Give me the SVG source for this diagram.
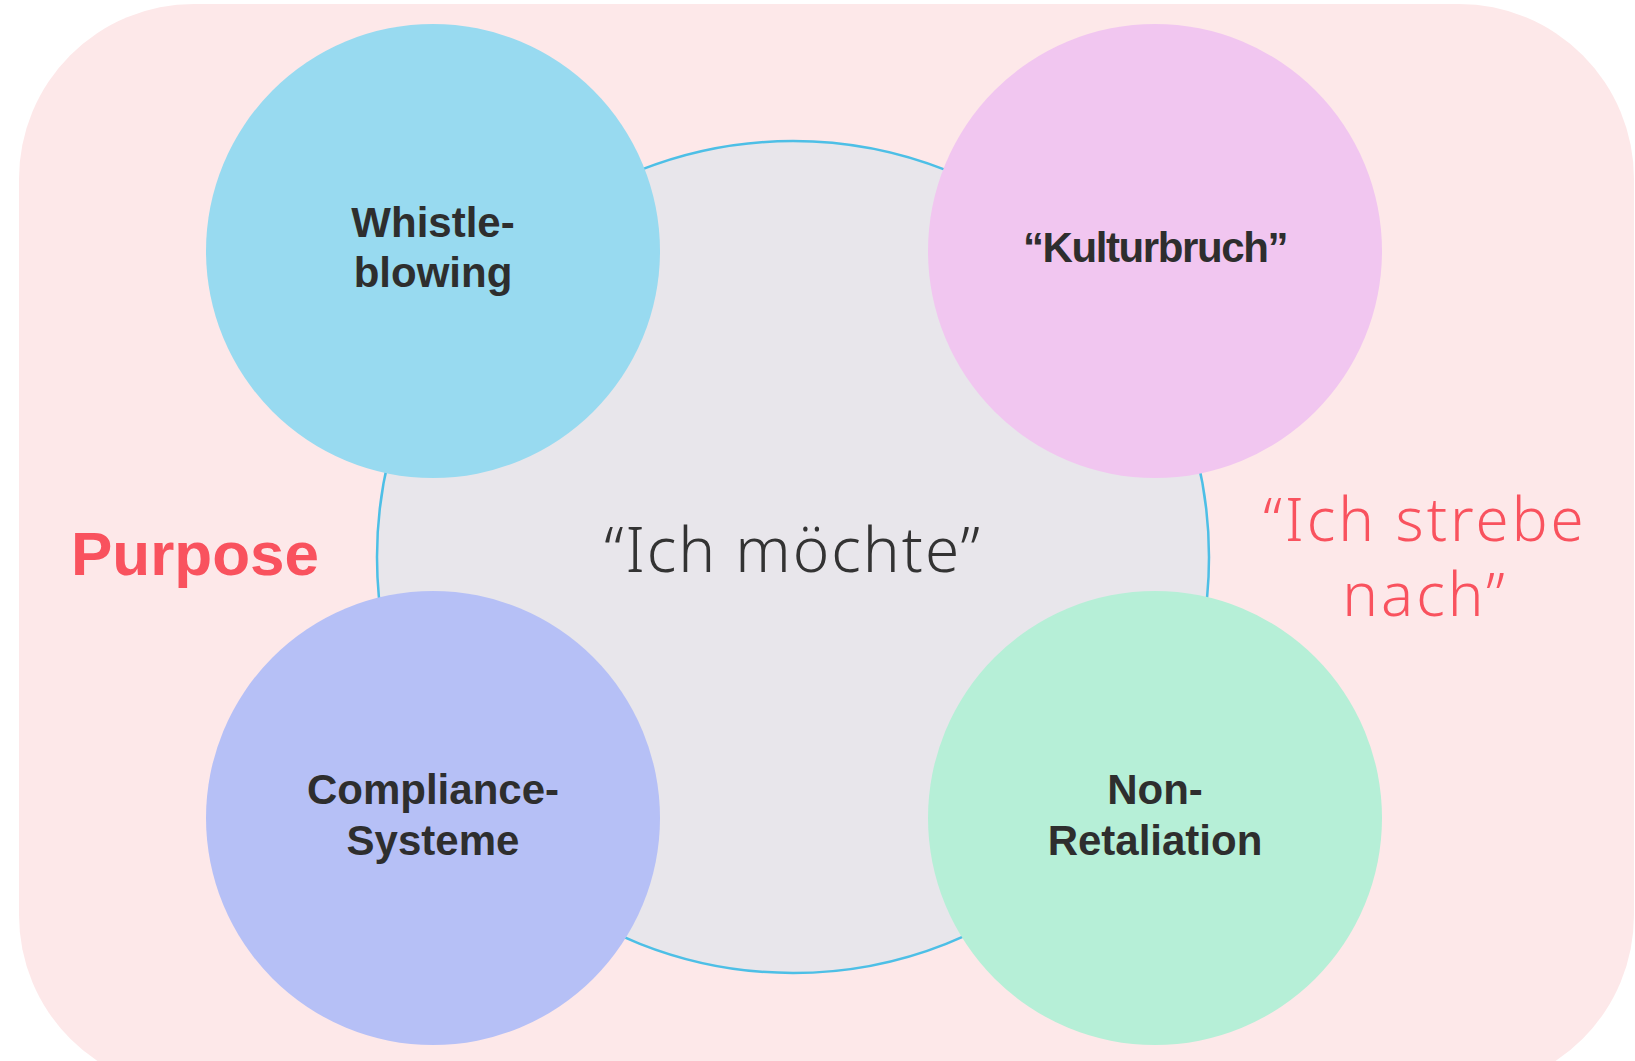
<svg xmlns="http://www.w3.org/2000/svg" width="1635" height="1061" viewBox="0 0 1635 1061">
<style>
.lbl{font-family:"Liberation Sans",Arial,sans-serif;font-weight:700;font-size:42px;fill:#2e2e2e;text-anchor:middle}
.light{font-family:"Noto Sans","Liberation Sans",sans-serif;font-weight:300;text-anchor:middle}
</style>
<rect width="1635" height="1061" fill="#ffffff"/>
<rect x="19" y="4" width="1615" height="1086" rx="175" ry="175" fill="#fde8e9"/>
<g id="purpose-label"><text x="71" y="575" font-family="Liberation Sans,Arial,sans-serif" font-weight="700" font-size="62" fill="#f9525e">Purpose</text></g>
<g id="strebe-label"><text class="light" font-size="60" letter-spacing="3" fill="#f9525e"><tspan x="1425" y="541">“Ich strebe</tspan><tspan x="1425" y="616">nach”</tspan></text></g>
<g id="center">
<circle cx="793" cy="557" r="416" fill="#e8e6eb" stroke="#4dbfe6" stroke-width="2.5"/>
<text class="light" font-size="62" letter-spacing="2" x="793" y="572" fill="#333333">“Ich möchte”</text>
</g>
<g id="whistleblowing">
<circle cx="433" cy="251" r="227" fill="#98daf0"/>
<text class="lbl"><tspan x="433" y="237">Whistle-</tspan><tspan x="433" y="287">blowing</tspan></text>
</g>
<g id="kulturbruch">
<circle cx="1155" cy="251" r="227" fill="#f1c6f0"/>
<text class="lbl" letter-spacing="-1.4" x="1155" y="262">“Kulturbruch”</text>
</g>
<g id="compliance">
<circle cx="433" cy="818" r="227" fill="#b6c0f6"/>
<text class="lbl"><tspan x="433" y="804">Compliance-</tspan><tspan x="433" y="855">Systeme</tspan></text>
</g>
<g id="nonretaliation">
<circle cx="1155" cy="818" r="227" fill="#b6efd7"/>
<text class="lbl"><tspan x="1155" y="804">Non-</tspan><tspan x="1155" y="855">Retaliation</tspan></text>
</g>
<g id="connectors"></g>
</svg>
